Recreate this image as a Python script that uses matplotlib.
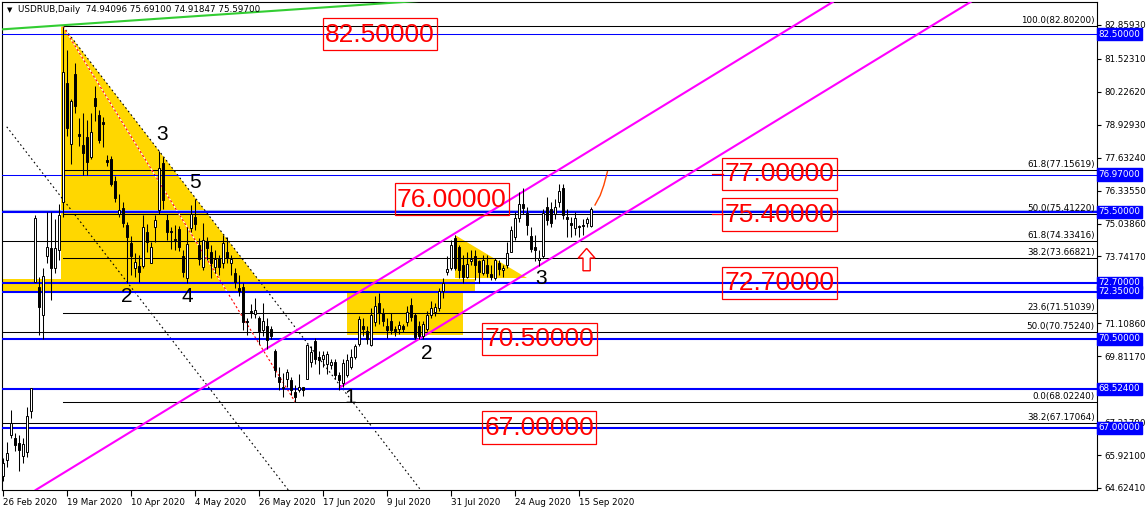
import numpy as np
import matplotlib.pyplot as plt
from matplotlib.patches import Rectangle, Polygon
from matplotlib.transforms import blended_transform_factory

# daily candles, USDRUB 26 Feb 2020 .. 18 Sep 2020
opens = [65.1, 65.73, 66.7, 66.6, 66.41, 65.9, 66.03, 67.65, 72.75, 72.55,
         71.44, 73.76, 74.06, 73.3, 74.0, 75.9, 80.59, 78.16, 80.93, 78.55,
         78.13, 78.45, 77.65, 79.97, 79.31, 79.05, 77.55, 77.58, 76.72, 75.4,
         75.65, 74.98, 74.29, 73.3, 73.38, 73.38, 74.7, 73.5, 74.9, 75.57,
         77.42, 75.17, 74.75, 74.45, 74.82, 73.76, 72.9, 74.86, 75.31, 74.2,
         73.34, 74.37, 73.93, 73.33, 73.7, 73.5, 73.9, 73.5, 73.1, 72.5,
         72.55, 71.2, 71.6, 71.47, 71.3, 70.85, 71.0, 70.88, 70.03, 69.0,
         68.55, 68.9, 68.87, 68.4, 68.5, 68.6, 68.9, 69.6, 70.42, 69.8,
         69.7, 69.5, 69.45, 69.6, 69.07, 68.76, 69.07, 69.4, 69.8, 70.3,
         71.0, 70.8, 70.26, 71.17, 71.9, 71.5, 71.0, 71.2, 70.9, 70.9,
         71.0, 71.17, 71.84, 71.44, 71.0, 70.63, 70.9, 71.44, 71.55, 71.7,
         72.4, 73.15, 73.28, 74.47, 74.13, 73.4, 72.95, 73.55, 73.75, 73.55,
         73.1, 73.4, 73.05, 72.88, 73.5, 73.2, 73.4, 73.9, 74.5, 75.25,
         75.8, 75.44, 74.55, 74.1, 73.6, 73.76, 75.7, 75.6, 75.4, 75.9,
         76.42, 75.3, 75.05, 74.85, 74.95, 75.0, 75.05, 74.94096]
highs = [65.8, 66.45, 67.7, 66.8, 66.7, 66.6, 67.8, 68.56, 75.37, 72.95,
         73.3, 75.5, 75.5, 75.2, 75.8, 82.8, 81.87, 79.95, 81.35, 79.2,
         79.4, 79.1, 79.4, 80.46, 79.51, 79.22, 77.74, 77.7, 76.9, 76.2,
         75.9, 75.1, 74.54, 73.88, 73.8, 75.37, 75.04, 74.33, 75.37, 77.9,
         77.65, 75.4, 74.92, 75.0, 74.95, 74.0, 74.9, 75.77, 76.0, 74.47,
         75.05, 74.5, 74.2, 74.0, 73.8, 74.6, 74.52, 73.8, 73.3, 73.0,
         72.7, 71.3, 71.87, 72.1, 71.4, 71.9, 71.3, 71.0, 70.1, 69.4,
         69.15, 69.3, 69.0, 68.7, 69.1, 68.6, 70.3, 70.2, 70.55, 70.0,
         70.0, 70.0, 69.7, 69.7, 69.2, 69.7, 69.9, 70.1, 70.3, 71.4,
         71.3, 71.0, 71.7, 72.2, 72.3, 71.7, 71.3, 71.5, 71.0, 71.2,
         71.1, 71.8, 72.1, 71.5, 71.2, 71.2, 71.6, 72.0, 71.9, 72.5,
         72.9, 73.76, 74.4, 74.6, 74.2, 73.8, 73.9, 74.0, 74.0, 73.6,
         73.8, 73.8, 73.4, 73.7, 73.6, 73.4, 74.3, 74.95, 75.5, 76.3,
         76.45, 75.7, 74.9, 74.6, 74.0, 75.6, 76.1, 75.9, 76.0, 76.6,
         76.6, 75.6, 75.3, 75.5, 75.0, 75.2, 75.3, 75.691]
lows = [64.9, 65.46, 66.6, 66.1, 65.3, 65.6, 65.85, 67.38, 72.75, 70.65,
        70.5, 73.5, 72.03, 73.1, 73.6, 75.3, 78.5, 77.4, 79.4, 78.1,
        76.95, 76.95, 77.6, 79.09, 78.2, 78.07, 77.3, 76.5, 75.9, 75.3,
        74.9, 72.7, 73.0, 72.95, 72.75, 73.3, 73.93, 73.47, 74.3, 75.4,
        75.6, 74.4, 74.05, 74.0, 73.95, 72.95, 72.7, 74.7, 74.8, 73.4,
        73.2, 73.6, 72.9, 73.1, 73.0, 73.3, 73.5, 73.0, 72.5, 72.2,
        70.85, 70.65, 71.3, 71.3, 70.3, 70.6, 70.1, 70.5, 69.0, 68.48,
        68.2, 68.6, 68.3, 68.02, 68.4, 68.25, 68.9, 69.4, 69.5, 69.1,
        69.4, 69.1, 69.3, 68.9, 68.5, 68.6, 69.0, 69.3, 69.7, 70.2,
        70.6, 70.3, 70.2, 71.0, 71.1, 71.0, 70.55, 70.7, 70.6, 70.7,
        70.75, 71.0, 71.2, 70.5, 70.5, 70.5, 70.8, 71.3, 71.4, 71.6,
        72.1, 73.0, 73.2, 73.2, 72.88, 72.7, 72.9, 73.4, 72.8, 72.7,
        73.0, 72.95, 72.8, 72.8, 73.0, 72.95, 73.3, 73.9, 74.4, 75.1,
        75.4, 74.6, 73.9, 73.56, 73.37, 73.7, 75.0, 74.9, 75.2, 75.7,
        75.2, 74.5, 74.5, 74.6, 74.5, 74.6, 74.9, 74.91847]
closes = [65.6, 66.0, 67.18, 66.32, 66.12, 66.35, 67.47, 68.56, 75.25, 71.74,
          72.97, 74.13, 73.27, 74.06, 75.37, 81.02, 78.79, 79.88, 79.67, 78.5,
          77.83, 77.48, 78.66, 79.67, 78.33, 78.97, 77.48, 76.6, 76.05, 75.57,
          75.06, 74.5, 73.76, 73.54, 73.14, 74.9, 74.3, 74.1, 75.17, 77.22,
          75.97, 74.7, 74.7, 74.4, 74.1, 73.14, 74.24, 75.4, 75.02, 73.64,
          74.39, 74.08, 73.47, 73.64, 73.33, 74.28, 73.67, 73.64, 72.75, 72.4,
          71.17, 71.15, 71.55, 71.63, 70.8, 71.2, 70.45, 70.6, 69.27, 68.8,
          68.6, 69.18, 68.5, 68.22, 68.6, 68.5, 70.26, 69.99, 69.69, 69.65,
          69.85, 69.9, 69.6, 69.07, 68.87, 69.55, 69.67, 69.8, 70.2, 71.28,
          70.9, 70.5, 71.44, 71.8, 71.5, 71.2, 70.85, 70.85, 70.8, 71.05,
          70.9, 71.56, 71.34, 70.58, 70.6, 71.1, 71.44, 71.7, 71.75, 72.4,
          72.7, 73.25, 74.2, 73.3, 73.2, 72.95, 73.45, 73.65, 73.4, 73.14,
          73.6, 73.1, 72.95, 73.6, 73.24, 73.3, 73.87, 74.78, 75.25, 75.8,
          75.65, 74.98, 74.05, 74.0, 73.7, 75.44, 75.17, 75.07, 75.7, 76.33,
          75.37, 75.2, 75.0, 75.25, 74.9, 74.95, 75.2, 75.597]

date_pos = [0, 16, 32, 48, 64, 80, 96, 112, 128, 144]
date_labels = ['26 Feb 2020', '19 Mar 2020', '10 Apr 2020', '4 May 2020', '26 May 2020',
               '17 Jun 2020', '9 Jul 2020', '31 Jul 2020', '24 Aug 2020', '15 Sep 2020']
price_ticks = [82.8593, 81.5231, 80.2262, 78.9293, 77.6324, 76.3355, 75.0386, 73.7417,
               72.4448, 71.1086, 69.8117, 68.5148, 67.2179, 65.9210, 64.6241]
# scale labels hidden under the level tags in the original
hidden_ticks = [72.4448, 68.5148]

blue_levels = [82.5, 76.97, 75.5, 72.7, 72.35, 70.5, 68.524, 67.0]
blue_thick = [False, False, True, True, True, True, True, True]

fib_a_start = 15
fib_a = [(100.0, 82.802), (61.8, 77.15619), (50.0, 75.4122), (38.2, 73.66821),
         (23.6, 71.51039), (0.0, 68.0224)]
fib_b = [(61.8, 74.33416), (50.0, 70.7524), (38.2, 67.17064)]

boxed_labels = [('82.50000', 94.25, 82.5), ('76.00000', 112.25, 76.0), ('77.00000', 194.1, 77.0),
                ('75.40000', 194.1, 75.4), ('72.70000', 194.1, 72.7), ('70.50000', 134.1, 70.5),
                ('67.00000', 134.0, 67.0)]
wave_labels = [('3', 39.75, 78.53), ('5', 48, 76.64), ('2', 31, 72.15), ('4', 46, 72.15),
               ('2', 106, 69.94), ('3', 134.5, 72.86), ('1', 86.75, 68.2)]

XMIN, XMAX = -0.25, 273.5
YMIN, YMAX = 64.545, 83.765

fig = plt.figure(figsize=(11.48, 5.11), dpi=100)
ax = fig.add_axes([2 / 1148, 21 / 511, 1095 / 1148, 488 / 511])
ax.set_xlim(XMIN, XMAX)
ax.set_ylim(YMIN, YMAX)


def ray(p0, p1, x_end):
    k = (p1[1] - p0[1]) / (p1[0] - p0[0])
    return [p0[0], x_end], [p0[1], p0[1] + k * (x_end - p0[0])]


# yellow background shapes
gold = '#ffd700'
ax.add_patch(Rectangle((XMIN, 72.35), 118.25, 0.5, fc=gold, ec='none', zorder=1))
ax.add_patch(Rectangle((86, 70.65), 29, 2.2, fc=gold, ec='none', zorder=1))
k3 = -0.2043  # slope of the triangle edge, price per bar
ax.add_patch(Polygon([(14.5, 72.85), (14.5, 82.8), (15, 82.8),
                      (15 + (72.85 - 82.8) / k3, 72.85)], fc=gold, ec='none', zorder=1))
ax.add_patch(Polygon([(113, 74.6), (113, 72.88), (130.9, 72.88)], fc=gold, ec='none', zorder=1))

# horizontal levels
for lvl, thick in zip(blue_levels, blue_thick):
    if lvl == 75.5:
        ax.axhline(lvl + 0.03, color='#a8b8e8', lw=2.2, zorder=2)
    ax.axhline(lvl, color='#0000ff', lw=1.5 if thick else 0.75, zorder=3)

trans = blended_transform_factory(ax.transAxes, ax.transData)
for lev, p in fib_a:
    ax.plot([fib_a_start, XMAX], [p, p], color='black', lw=0.75, zorder=2)
    ax.text(0.998, p + 0.04, f'{lev:.1f}({p:.5f})', transform=trans, ha='right', va='bottom',
            fontsize=6.3, color='black', zorder=6)
for lev, p in fib_b:
    ax.axhline(p, color='black', lw=0.75, zorder=2)
    ax.text(0.998, p + 0.04, f'{lev:.1f}({p:.5f})', transform=trans, ha='right', va='bottom',
            fontsize=6.3, color='black', zorder=6)

# diagonal drawings
xs, ys = ray((0.93, 78.85), (71.3, 64.55), 75)
ax.plot(xs, ys, color='black', lw=0.8, ls=(0, (1.5, 2.5)), zorder=2)
xs, ys = ray((15, 82.802), (104.4, 64.55), 108)
ax.plot(xs, ys, color='black', lw=0.8, ls=(0, (1.5, 2.5)), zorder=2)
ax.plot([15, 73], [82.802, 68.0224], color='white', lw=0.8, zorder=2)
ax.plot([15, 73], [82.802, 68.0224], color='red', lw=0.8, ls=(0, (2, 2)), zorder=2)

xs, ys = ray((0, 82.69), (95, 83.71), 120)
ax.plot(xs, ys, color='#32cd32', lw=1.5, zorder=3)
ax.axline((8.43, 64.57), (144.25, 77.67), color='#ff00ff', lw=1.5, zorder=3)
xs, ys = ray((84.25, 68.59), (241.3, 83.71), 280)
ax.plot(xs, ys, color='#ff00ff', lw=1.5, zorder=3)

# candles
o = np.array(opens)
h = np.array(highs)
l = np.array(lows)
c = np.array(closes)
x = np.arange(len(o))
ax.vlines(x, l, h, color='black', lw=0.75, zorder=4)
body = np.maximum(np.abs(c - o), 0.02)
ax.bar(x, body, bottom=np.minimum(o, c), width=0.6,
       color=np.where(c >= o, 'white', 'black'), edgecolor='black', linewidth=0.7, zorder=5)

# projection stroke and arrow
ax.plot([148, 149.3, 150.2, 151.1], [75.77, 76.15, 76.55, 77.08], color='#ff4500', lw=1.0, zorder=6)
ax.add_patch(Polygon([(145.9, 74.06), (148.0, 73.68), (146.8, 73.68), (146.8, 73.18),
                      (145.0, 73.18), (145.0, 73.68), (143.8, 73.68)],
                     fc='white', ec='red', lw=1.0, zorder=6))

# boxed price texts
for txt, bx, p in boxed_labels:
    ax.add_patch(Rectangle((bx - 14.3, p - 0.64), 28.6, 1.28, fc='none', ec='red', lw=0.9, zorder=7))
    ax.text(bx, p - 0.02, txt, ha='center', va='center', color='red', fontsize=19,
            family='Liberation Sans', zorder=7)
for p in (77.0, 75.4):
    ax.plot([177.25, 180.1], [p, p], color='red', lw=0.9, zorder=7)

for txt, wx, wy in wave_labels:
    ax.text(wx, wy, txt, ha='center', va='center', fontsize=15, family='Liberation Sans',
            color='black', zorder=7)

# axes and price scale
ax.yaxis.tick_right()
ax.set_yticks(price_ticks)
ax.set_yticklabels(['' if v in hidden_ticks else f'{v:.5f}' for v in price_ticks])
ax.tick_params(axis='y', length=3, width=0.8, pad=2, labelsize=6.3)
ax.set_xticks(date_pos)
ax.set_xticklabels(date_labels)
ax.tick_params(axis='x', length=4, width=0.8, pad=1.5, labelsize=6.3)
for lbl in ax.get_xticklabels():
    lbl.set_ha('left')
for sp in ax.spines.values():
    sp.set_linewidth(0.8)

for lvl in blue_levels:
    ax.text(1.0012, lvl, f'{lvl:.5f}', transform=trans, ha='left', va='center', fontsize=6.3,
            color='white', clip_on=False, zorder=10,
            bbox=dict(boxstyle='square,pad=0.18', fc='#0000ff', ec='#0000ff'))

fig.text(7 / 1148, 1 - 10 / 511, '\u25bc', fontsize=5, va='center', color='black')
fig.text(18 / 1148, 1 - 10 / 511, 'USDRUB,Daily  74.94096 75.69100 74.91847 75.59700',
         fontsize=6.3, va='center', color='black')

fig.savefig('out.png', dpi=100)
